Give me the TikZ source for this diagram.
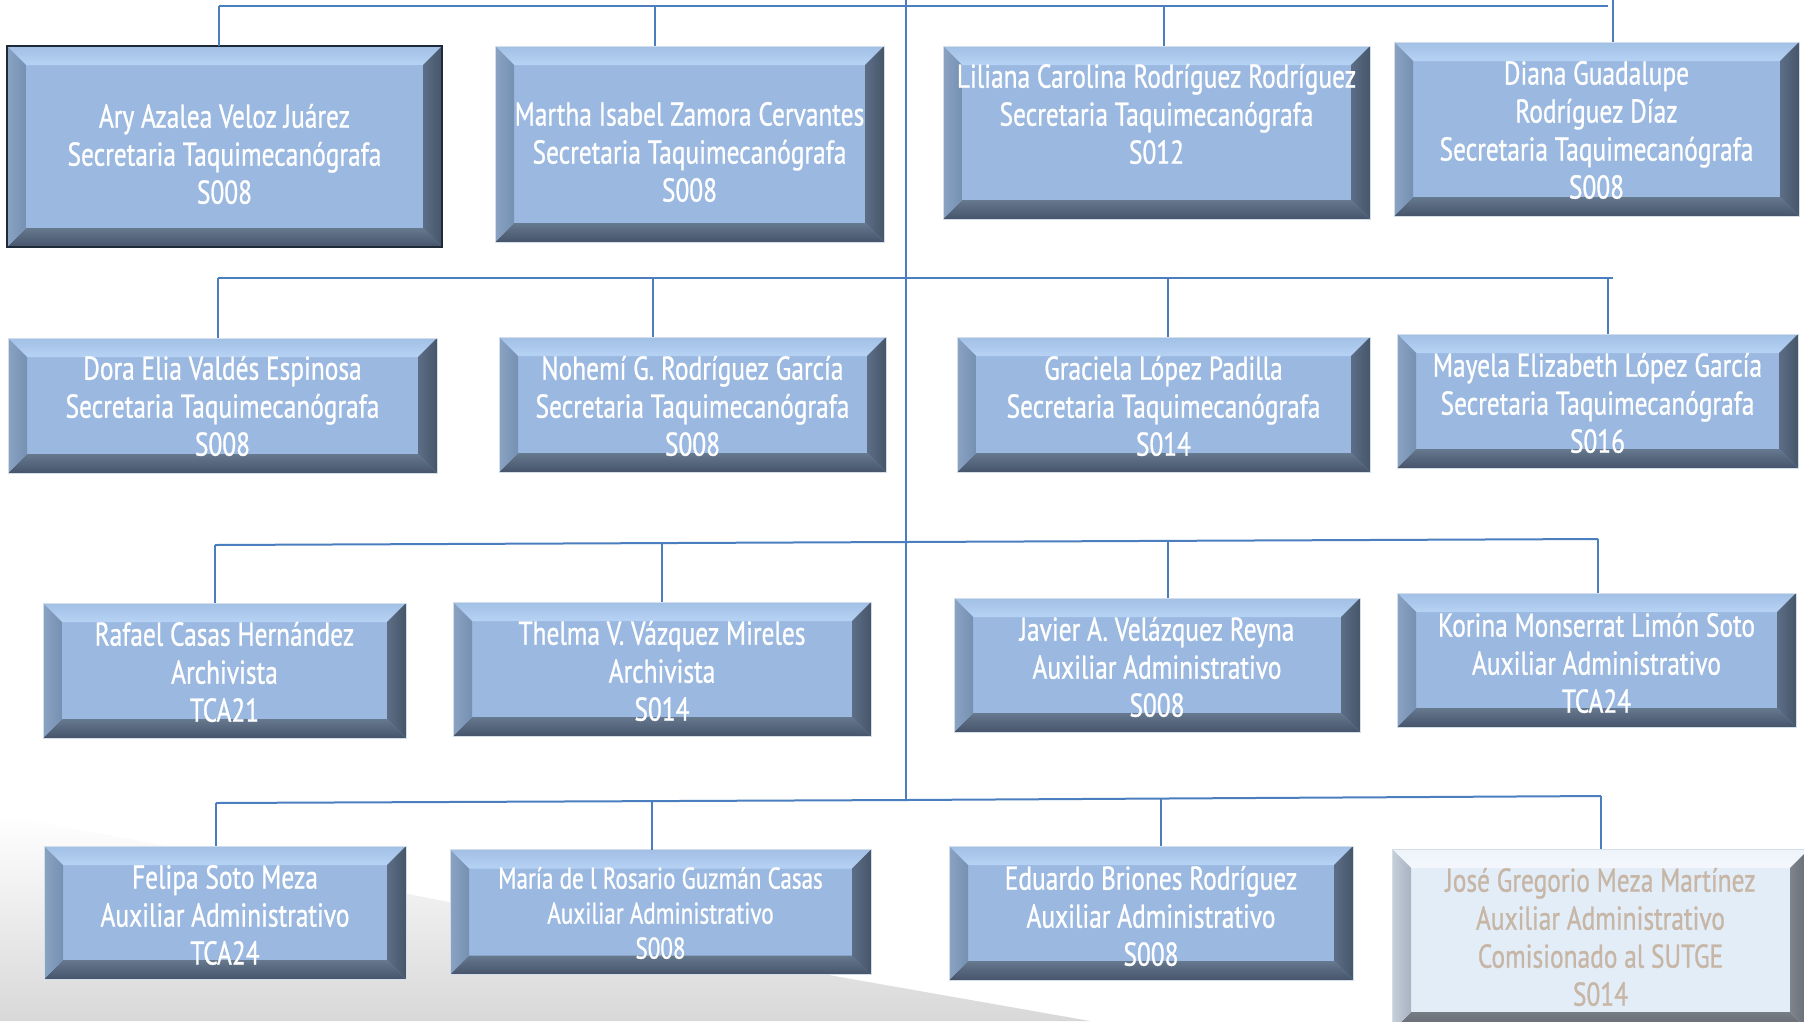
\documentclass[tikz,border=0pt]{standalone}
\usepackage{fontspec}
\setmainfont{PT Sans}[FakeStretch=0.77,FakeBold=0.8]
\definecolor{conncol}{HTML}{4A7EBE}
\definecolor{faceB}{HTML}{9BB9E0}
\definecolor{topB1}{HTML}{A2BFE5}
\definecolor{topB2}{HTML}{B6D2F4}
\definecolor{leftB1}{HTML}{8AA3C3}
\definecolor{leftB2}{HTML}{7690B2}
\definecolor{rightB1}{HTML}{5C6E86}
\definecolor{rightB2}{HTML}{46566A}
\definecolor{botB1}{HTML}{66798F}
\definecolor{botB2}{HTML}{46546A}
\definecolor{edgeB}{HTML}{D4DEE9}
\definecolor{darkedge}{HTML}{1E2A38}
\definecolor{faceP}{HTML}{E3EDF8}
\definecolor{topP1}{HTML}{EDF3FA}
\definecolor{topP2}{HTML}{F4F8FD}
\definecolor{leftP1}{HTML}{C6CFDA}
\definecolor{leftP2}{HTML}{A8B3C1}
\definecolor{rightP1}{HTML}{7E848C}
\definecolor{rightP2}{HTML}{656B73}
\definecolor{botP1}{HTML}{767C84}
\definecolor{botP2}{HTML}{62676F}
\definecolor{paletext}{HTML}{C7B6A5}
\definecolor{bggray}{HTML}{D8D8D8}
\newcommand\bvpaint[1]{%
  \path (path picture bounding box.north west) coordinate (bv1)
        (path picture bounding box.north east) coordinate (bv2)
        (path picture bounding box.south east) coordinate (bv3)
        (path picture bounding box.south west) coordinate (bv4);
  \path ([shift={(19pt,-19pt)}]bv1) coordinate (bi1)
        ([shift={(-19pt,-19pt)}]bv2) coordinate (bi2)
        ([shift={(-19pt,19pt)}]bv3) coordinate (bi3)
        ([shift={(19pt,19pt)}]bv4) coordinate (bi4);
  \path[#1 top] (bv1)--(bv2)--(bi2)--(bi1)--cycle;
  \path[#1 bottom] (bv4)--(bv3)--(bi3)--(bi4)--cycle;
  \path[#1 left] (bv1)--(bi1)--(bi4)--(bv4)--cycle;
  \path[#1 right] (bv2)--(bi2)--(bi3)--(bv3)--cycle;
}
\tikzset{
  blue top/.style={top color=topB1, bottom color=topB2},
  blue bottom/.style={top color=botB1, bottom color=botB2},
  blue left/.style={left color=leftB1, right color=leftB2},
  blue right/.style={left color=rightB1, right color=rightB2},
  pale top/.style={top color=topP1, bottom color=topP2},
  pale bottom/.style={top color=botP1, bottom color=botP2},
  pale left/.style={left color=leftP1, right color=leftP2},
  pale right/.style={left color=rightP1, right color=rightP2},
  bluebox/.style={rectangle, inner sep=0pt, outer sep=0pt, draw=edgeB, line width=1pt,
    fill=faceB, path picture={\bvpaint{blue}}},
  palebox/.style={rectangle, inner sep=0pt, outer sep=0pt, draw=edgeB, line width=1pt,
    fill=faceP, path picture={\bvpaint{pale}}},
  txt/.style={align=center, text=white, inner sep=0pt, font=\fontsize{33}{38}\selectfont},
  conn/.style={draw=conncol, line width=2pt},
}
\begin{document}
\begin{tikzpicture}[x=1pt,y=-1pt]
\useasboundingbox (0,0) rectangle (1804,1021);
\clip (0,0) rectangle (1804,1021);
\fill[white] (0,0) rectangle (1804,1021);
% background wash
\shade[top color=white, bottom color=bggray] (0,815) .. controls (250,860) and (500,915) .. (840,977) -- (1090,1021) -- (0,1021) -- cycle;

% connector coordinates
\coordinate (tt) at (906,0);
\coordinate (tb) at (906,800);
\coordinate (r1a) at (219,6);
\coordinate (r1b) at (655,6);
\coordinate (r1c) at (1164,6);
\coordinate (r1d) at (1608,6);
\coordinate (r1e) at (1613,0);
\coordinate (r2a) at (218,278);
\coordinate (r2b) at (653,278);
\coordinate (r2c) at (1168,278);
\coordinate (r2d) at (1608,278);
\coordinate (r2e) at (1613,278);
\coordinate (r3a) at (215,545);
\coordinate (r3b) at (662,543);
\coordinate (r3m) at (906,542);
\coordinate (r3c) at (1168,541);
\coordinate (r3d) at (1598,539);
\coordinate (r4a) at (216,803);
\coordinate (r4b) at (652,801);
\coordinate (r4m) at (906,800);
\coordinate (r4c) at (1161,799);
\coordinate (r4d) at (1601,796);

% boxes
\node[bluebox, draw=darkedge, line width=2.5pt, minimum width=435, minimum height=201] (A) at (224.5,146.5) {};
\node[bluebox, minimum width=389, minimum height=196] (B) at (689.5,144) {};
\node[bluebox, minimum width=427, minimum height=173] (C) at (1156.5,132.5) {};
\node[bluebox, minimum width=405, minimum height=174] (D) at (1596.5,129) {};
\node[bluebox, minimum width=429, minimum height=135] (E) at (222.5,405.5) {};
\node[bluebox, minimum width=387, minimum height=135] (F) at (692.5,404.5) {};
\node[bluebox, minimum width=413, minimum height=135] (G) at (1163.5,404.5) {};
\node[bluebox, minimum width=401, minimum height=134] (H) at (1597.5,401) {};
\node[bluebox, minimum width=363, minimum height=135] (I) at (224.5,670.5) {};
\node[bluebox, minimum width=418, minimum height=134] (J) at (662,669) {};
\node[bluebox, minimum width=406, minimum height=134] (K) at (1157,665) {};
\node[bluebox, minimum width=399, minimum height=134] (L) at (1596.5,660) {};
\node[bluebox, minimum width=362, minimum height=133] (M) at (225,912.5) {};
\node[bluebox, minimum width=421, minimum height=125] (N) at (660.5,912) {};
\node[bluebox, minimum width=404, minimum height=134] (O) at (1151,913) {};
\node[palebox, minimum width=417, minimum height=182] (P) at (1600.5,940) {};

% connectors
\draw[conn] (tt) -- (tb);
\draw[conn] (r1a) -- (r1d);
\draw[conn] (r1a) -- (r1a |- A.north);
\draw[conn] (r1b) -- (r1b |- B.north);
\draw[conn] (r1c) -- (r1c |- C.north);
\draw[conn] (r1e) -- (r1e |- D.north);
\draw[conn] (r2a) -- (r2e);
\draw[conn] (r2a) -- (r2a |- E.north);
\draw[conn] (r2b) -- (r2b |- F.north);
\draw[conn] (r2c) -- (r2c |- G.north);
\draw[conn] (r2d) -- (r2d |- H.north);
\draw[conn] (r3a) -- (r3m) -- (r3d);
\draw[conn] (r3a) -- (r3a |- I.north);
\draw[conn] (r3b) -- (r3b |- J.north);
\draw[conn] (r3c) -- (r3c |- K.north);
\draw[conn] (r3d) -- (r3d |- L.north);
\draw[conn] (r4a) -- (r4m) -- (r4d);
\draw[conn] (r4a) -- (r4a |- M.north);
\draw[conn] (r4b) -- (r4b |- N.north);
\draw[conn] (r4c) -- (r4c |- O.north);
\draw[conn] (r4d) -- (r4d |- P.north);

% texts
\node[txt] (At) at (224.5,154) {Ary Azalea Veloz Juárez\\Secretaria Taquimecanógrafa\\S008};
\node[txt] (Bt) at (689.5,152) {Martha Isabel Zamora Cervantes\\Secretaria Taquimecanógrafa\\S008};
\node[txt] (Ct) at (1156.5,114) {Liliana Carolina Rodríguez Rodríguez\\Secretaria Taquimecanógrafa\\S012};
\node[txt] (Dt) at (1596.5,130) {Diana Guadalupe\\Rodríguez Díaz\\Secretaria Taquimecanógrafa\\S008};
\node[txt] (Et) at (222.5,406) {Dora Elia Valdés Espinosa\\Secretaria Taquimecanógrafa\\S008};
\node[txt] (Ft) at (692.5,406) {Nohemí G. Rodríguez García\\Secretaria Taquimecanógrafa\\S008};
\node[txt] (Gt) at (1163.5,406) {Graciela López Padilla\\Secretaria Taquimecanógrafa\\S014};
\node[txt] (Ht) at (1597.5,403) {Mayela Elizabeth López García\\Secretaria Taquimecanógrafa\\S016};
\node[txt] (It) at (224.5,672) {Rafael Casas Hernández\\Archivista\\TCA21};
\node[txt] (Jt) at (662,671) {Thelma V. Vázquez Mireles\\Archivista\\S014};
\node[txt] (Kt) at (1157,667) {Javier A. Velázquez Reyna\\Auxiliar Administrativo\\S008};
\node[txt] (Lt) at (1596.5,663) {Korina Monserrat Limón Soto\\Auxiliar Administrativo\\TCA24};
\node[txt] (Mt) at (225,915) {Felipa Soto Meza\\Auxiliar Administrativo\\TCA24};
\node[txt, font=\fontsize{30}{35}\selectfont] (Nt) at (660.5,913) {María de l Rosario Guzmán Casas\\Auxiliar Administrativo\\S008};
\node[txt] (Ot) at (1151,916) {Eduardo Briones Rodríguez\\Auxiliar Administrativo\\S008};
\node[txt, text=paletext] (Pt) at (1600.5,937) {José Gregorio Meza Martínez\\Auxiliar Administrativo\\Comisionado al SUTGE\\S014};
\end{tikzpicture}
\end{document}
